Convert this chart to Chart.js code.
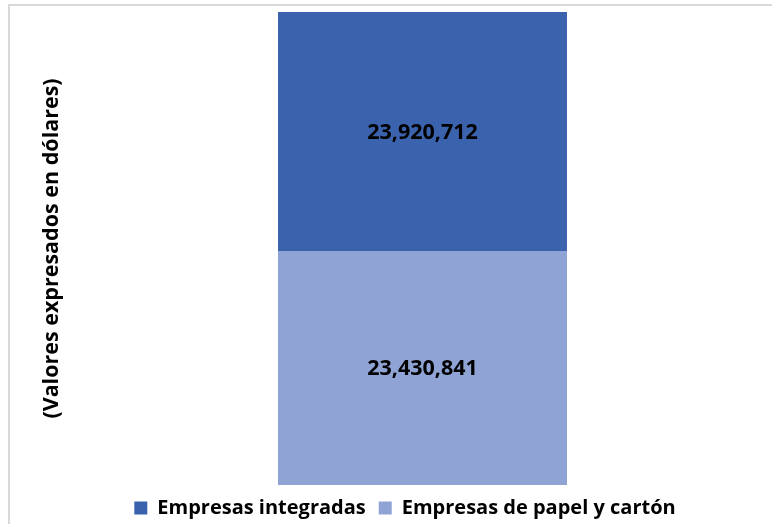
<!DOCTYPE html>
<html>
<head>
<meta charset="utf-8">
<script src="https://cdn.jsdelivr.net/npm/chart.js@4"></script>
<style>
  html, body { margin:0; padding:0; background:#fff; }
  #wrap { position:relative; width:772px; height:524px; }
  #frame { position:absolute; left:8px; top:4px; width:780px; height:540px; border-top:2px solid #d9d9d9; border-left:2px solid #d9d9d9; }
  #dia { position:absolute; left:0; top:0; }
</style>
</head>
<body>
<div id="wrap">
  <div id="frame"></div>
  <canvas id="dia" width="772" height="524"></canvas>
</div>
<script>
// donnees
const categories = [""];
const seriesNames = ["Empresas integradas", "Empresas de papel y cartón"];
const integradas = [23920712];
const papelCarton = [23430841];
const colors = ["#3b63ad", "#8fa4d4"];

const font = "Open Sans";

// etiquettes au centre des barres
const labelsPlugin = {
  id: "barLabels",
  afterDatasetsDraw(chart) {
    const ctx = chart.ctx;
    ctx.save();
    ctx.font = "bold 21.5px '" + font + "'";
    ctx.fillStyle = "#000";
    ctx.textAlign = "center";
    ctx.textBaseline = "middle";
    chart.data.datasets.forEach((ds, i) => {
      chart.getDatasetMeta(i).data.forEach((bar, j) => {
        const p = bar.getProps(["x", "y", "base"], true);
        ctx.fillText(ds.data[j].toLocaleString("en-US"), p.x, (p.y + p.base) / 2 + 1);
      });
    });
    ctx.restore();
  }
};

const total = integradas[0] + papelCarton[0];

new Chart(document.getElementById("dia"), {
  type: "bar",
  data: {
    labels: categories,
    datasets: [
      { label: seriesNames[1], data: papelCarton, backgroundColor: colors[1], categoryPercentage: 1, barPercentage: 0.4256 },
      { label: seriesNames[0], data: integradas, backgroundColor: colors[0], categoryPercentage: 1, barPercentage: 0.4256 }
    ]
  },
  options: {
    responsive: false,
    animation: false,
    layout: { padding: { left: 48, right: 10, top: 12, bottom: -4 } },
    scales: {
      x: { stacked: true, display: false },
      y: {
        stacked: true, min: 0, max: total,
        ticks: { display: false },
        grid: { display: false },
        border: { display: false },
        title: {
          display: true,
          text: "(Valores expresados en dólares)",
          color: "#000",
          font: { family: font, size: 21.5, weight: "bold" },
          padding: { top: -9, bottom: 0 }
        },
        afterFit(axis) { axis.width = 35; }
      }
    },
    plugins: {
      legend: {
        position: "bottom",
        reverse: true,
        labels: {
          boxWidth: 13, boxHeight: 13, color: "#000",
          font: { family: font, size: 20, weight: "bold" },
          padding: 13
        }
      },
      tooltip: { enabled: false }
    }
  },
  plugins: [labelsPlugin]
});
</script>
</body>
</html>
